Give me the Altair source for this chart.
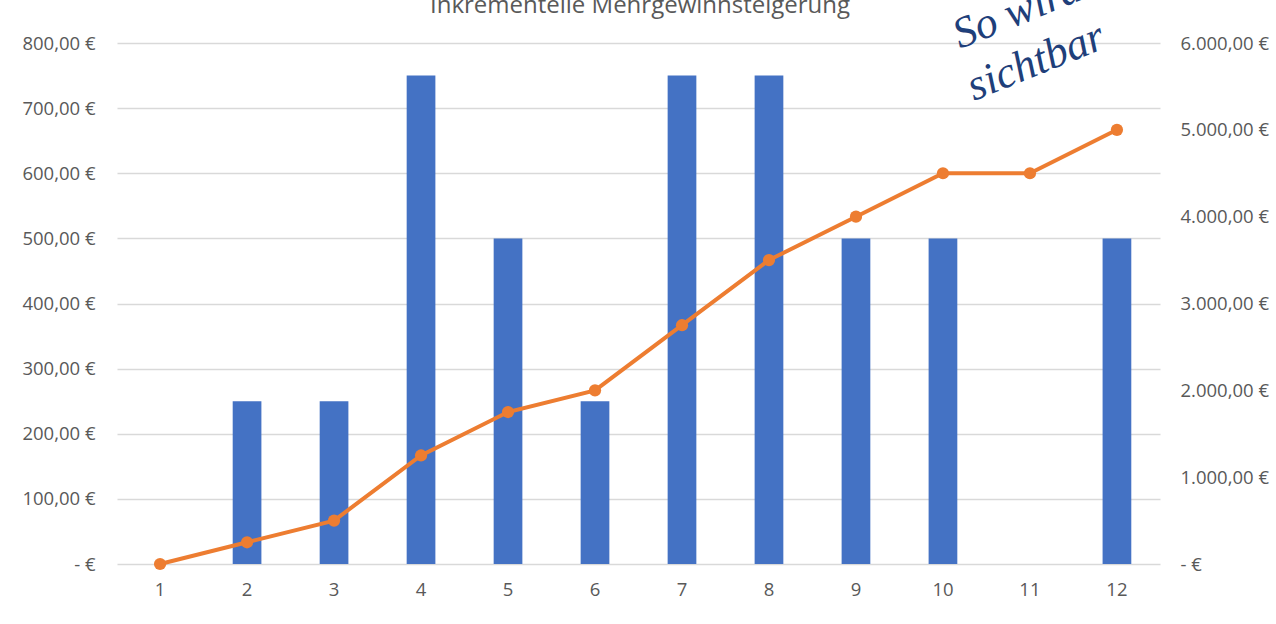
import altair as alt
import pandas as pd

# Monthly step (1..12), incremental extra profit per step and its running total
steps = [str(i) for i in range(1, 13)]
increment = [0, 250, 250, 750, 500, 250, 750, 750, 500, 500, 0, 500]
cumulative = [0, 250, 500, 1250, 1750, 2000, 2750, 3500, 4000, 4500, 4500, 5000]

left_ticks = [0, 100, 200, 300, 400, 500, 600, 700, 800]
right_ticks = [0, 1000, 2000, 3000, 4000, 5000, 6000]

title_text = "Inkrementelle Mehrgewinnsteigerung"
note_lines = ["So wird's", "sichtbar"]

df = pd.DataFrame({"step": steps, "increment": increment, "cumulative": cumulative})

FONT = "Open Sans"
GREY = "#595959"
LABEL_SIZE = 18.5

# German currency format: 1.000,00 €, zero shown as "-   €"
euro = ("datum.value == 0 ? '-   €' : "
        "replace(replace(replace(format(datum.value, ',.2f'), ',', '#'), '.', ','), '#', '.') + ' €'")

x_enc = alt.X(
    "step:N", sort=steps, title=None,
    scale=alt.Scale(paddingInner=0.67, paddingOuter=0.33),
    axis=alt.Axis(labelAngle=0, ticks=False, domain=False, labelPadding=16,
                  labelFontSize=LABEL_SIZE, labelColor=GREY, labelFont=FONT),
)

bars = alt.Chart(df).mark_bar(color="#4472C4").encode(
    x=x_enc,
    y=alt.Y("increment:Q", title=None,
            scale=alt.Scale(domain=[0, 800], nice=False),
            axis=alt.Axis(values=left_ticks, grid=True, gridColor="#d9d9d9", gridWidth=1.5,
                          domain=False, ticks=False, labelExpr=euro, labelPadding=22,
                          labelFontSize=LABEL_SIZE, labelColor=GREY, labelFont=FONT)),
)

line = alt.Chart(df).mark_line(
    color="#ED7D31", strokeWidth=4,
    point=alt.OverlayMarkDef(color="#ED7D31", filled=True, size=150, opacity=1),
).encode(
    x=alt.X("step:N", sort=steps),
    y=alt.Y("cumulative:Q", title=None,
            scale=alt.Scale(domain=[0, 6000], nice=False),
            axis=alt.Axis(orient="right", values=right_ticks, grid=False, domain=False,
                          ticks=False, labelExpr=euro, labelPadding=20, labelAlign="left",
                          labelFontSize=LABEL_SIZE, labelColor=GREY, labelFont=FONT)),
)

title = alt.Chart(pd.DataFrame({"t": [title_text]})).mark_text(
    font=FONT, fontSize=24, color=GREY, align="center", baseline="alphabetic",
).encode(text="t:N", x=alt.value(523), y=alt.value(-30))

note_df = pd.DataFrame({"t": note_lines, "px": [843, 857], "py": [6, 58]})
note = alt.Chart(note_df).mark_text(
    font="Liberation Serif", fontStyle="italic", fontSize=44, color="#1f3f7a",
    align="left", baseline="alphabetic", angle=338,
).encode(
    text="t:N",
    x=alt.X("px:Q", scale=None),
    y=alt.Y("py:Q", scale=None),
)

chart = alt.layer(bars, line, title, note).resolve_scale(y="independent").properties(
    width=1043, height=521,
    autosize=alt.AutoSizeParams(type="none"),
    padding={"left": 117, "top": 43, "right": 116, "bottom": 60},
    background="white",
).configure_view(stroke=None)

chart.save("out.html", embed_options={"renderer": "svg", "actions": False})
